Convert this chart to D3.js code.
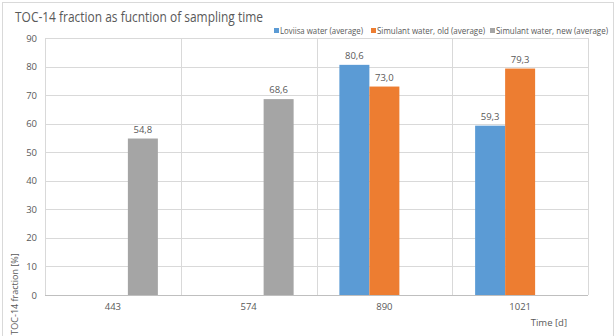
<!DOCTYPE html>
<html>
<head>
<meta charset="utf-8">
<script src="https://cdn.jsdelivr.net/npm/d3@7"></script>
<style>
  html, body { margin: 0; padding: 0; background: #fff; }
  svg { display: block; font-family: "Open Sans", "Noto Sans", sans-serif; }
</style>
</head>
<body>
<svg id="chart" width="616" height="336"></svg>
<script>
const categories = ["443", "574", "890", "1021"];
const seriesNames = ["Loviisa water (average)", "Simulant water, old (average)", "Simulant water, new (average)"];
const loviisa = [null, null, 80.6, 59.3];
const simOld = [null, null, 73.0, 79.3];
const simNew = [54.8, 68.6, null, null];
const yTicks = [0, 10, 20, 30, 40, 50, 60, 70, 80, 90];
const colors = ["#5B9BD5", "#ED7D31", "#A5A5A5"];

const seriesValues = [loviisa, simOld, simNew];
const svg = d3.select("#chart");
const plot = { left: 45, right: 588, top: 38, bottom: 295 };

// outer chart frame
svg.append("rect").attr("x", 2.5).attr("y", 2.5).attr("width", 611).attr("height", 345)
  .attr("fill", "#fff").attr("stroke", "#D9D9D9").attr("stroke-width", 1);

const x0 = d3.scaleBand().domain(categories).range([plot.left, plot.right]).paddingInner(0).paddingOuter(0);
const x1 = d3.scaleBand().domain(d3.range(seriesNames.length)).range([0, x0.bandwidth()])
  .paddingInner(0).paddingOuter(0.7625);
const y = d3.scaleLinear().domain([0, 90]).range([plot.bottom, plot.top]);

// horizontal gridlines
svg.append("g").selectAll("line").data(yTicks).join("line")
  .attr("x1", plot.left).attr("x2", plot.right)
  .attr("y1", d => Math.round(y(d)) + 0.5).attr("y2", d => Math.round(y(d)) + 0.5)
  .attr("stroke", "#D9D9D9").attr("stroke-width", 1);

// vertical gridlines at category boundaries
const bounds = categories.map(c => x0(c)).concat([plot.right]);
svg.append("g").selectAll("line").data(bounds).join("line")
  .attr("x1", d => Math.round(d) + 0.5).attr("x2", d => Math.round(d) + 0.5)
  .attr("y1", plot.top).attr("y2", plot.bottom)
  .attr("stroke", "#D9D9D9").attr("stroke-width", 1);

// y axis labels
const yAxis = d3.axisLeft(y).tickValues(yTicks).tickSize(0).tickPadding(8).tickFormat(d3.format("d"));
const gy = svg.append("g").attr("transform", `translate(${plot.left},0)`).call(yAxis);
gy.select(".domain").remove();
gy.selectAll("text").attr("fill", "#595959").style("font-size", "9.5px").attr("font-family", "Open Sans, sans-serif");

// x axis labels
const xAxis = d3.axisBottom(x0).tickSize(0).tickPadding(8);
const gx = svg.append("g").attr("transform", `translate(0,${plot.bottom})`).call(xAxis);
gx.select(".domain").remove();
gx.selectAll("text").attr("fill", "#595959").style("font-size", "9.5px").attr("font-family", "Open Sans, sans-serif");

// bottom axis line
svg.append("line").attr("x1", plot.left).attr("x2", plot.right)
  .attr("y1", Math.round(y(0)) + 0.5).attr("y2", Math.round(y(0)) + 0.5)
  .attr("stroke", "#BFBFBF").attr("stroke-width", 1);

// bars
const fmt = v => d3.format(".1f")(v).replace(".", ",");
seriesValues.forEach((vals, si) => {
  const data = categories.map((c, i) => ({ c, v: vals[i] })).filter(d => d.v != null);
  const g = svg.append("g");
  g.selectAll("rect").data(data).join("rect")
    .attr("x", d => x0(d.c) + x1(si))
    .attr("width", x1.bandwidth())
    .attr("y", d => y(d.v))
    .attr("height", d => y(0) - y(d.v))
    .attr("fill", colors[si]);
  g.selectAll("text").data(data).join("text")
    .attr("x", d => x0(d.c) + x1(si) + x1.bandwidth() / 2)
    .attr("y", d => y(d.v) - 6)
    .attr("text-anchor", "middle")
    .attr("fill", "#595959")
    .style("font-size", "9.5px")
    .text(d => fmt(d.v));
});

// title
svg.append("text").attr("x", 15).attr("y", 22)
  .attr("fill", "#595959").style("font-size", "14px")
  .attr("textLength", 248).attr("lengthAdjust", "spacingAndGlyphs")
  .text("TOC-14 fraction as fucntion of sampling time");

// legend
const legendItems = [
  { x: 274, w: 83 },
  { x: 371, w: 108 },
  { x: 490, w: 112 }
];
legendItems.forEach((it, i) => {
  svg.append("rect").attr("x", it.x).attr("y", 28).attr("width", 5).attr("height", 5).attr("fill", colors[i]);
  svg.append("text").attr("x", it.x + 6).attr("y", 34)
    .attr("fill", "#595959").style("font-size", "8.5px")
    .attr("textLength", it.w).attr("lengthAdjust", "spacingAndGlyphs")
    .text(seriesNames[i]);
});

// axis titles
svg.append("text")
  .attr("transform", "translate(18,294) rotate(-90)")
  .attr("text-anchor", "middle")
  .attr("fill", "#595959").style("font-size", "9px")
  .text("TOC-14 fraction [%]");
svg.append("text").attr("x", 567).attr("y", 326)
  .attr("text-anchor", "end")
  .attr("fill", "#595959").style("font-size", "9.5px")
  .text("Time [d]");
</script>
</body>
</html>
